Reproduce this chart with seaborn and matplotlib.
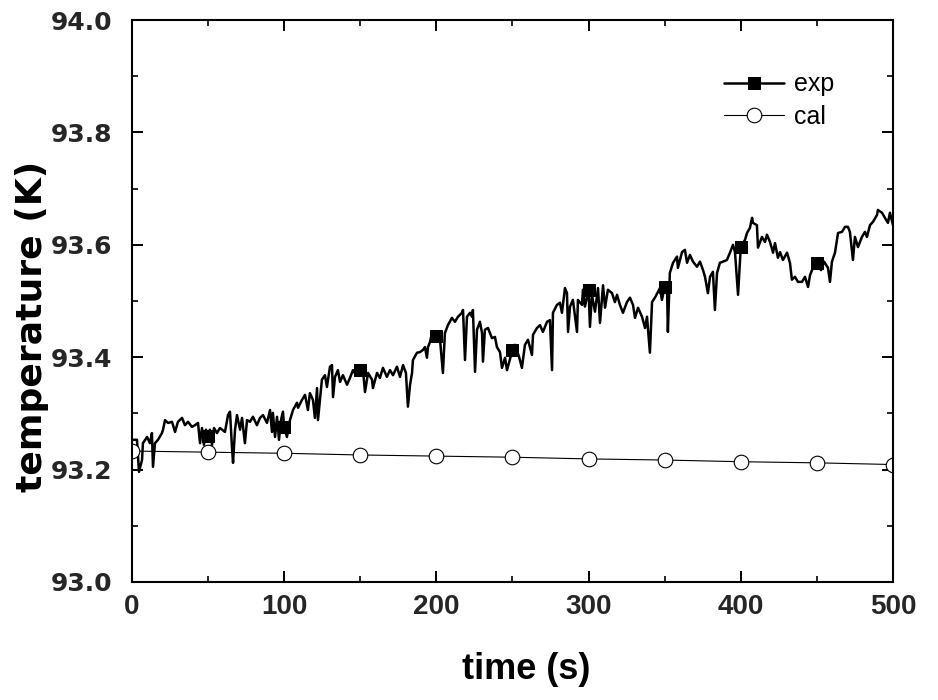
import numpy as np
import pandas as pd
import matplotlib
matplotlib.use("Agg")
import matplotlib.pyplot as plt
from matplotlib.ticker import MultipleLocator, FormatStrFormatter
import seaborn as sns

# ---------------- data ----------------
exp_time = [0.0, 3.3, 4.6, 6.6, 7.2, 9.9, 11.8, 13.1, 13.8, 15.1, 17.1, 19.7, 20.4, 21.7, 23.7,
            26.3, 28.3, 30.2, 32.9, 34.8, 36.8, 39.4, 41.4, 43.4, 44.7, 46.0, 47.3, 48.6, 50.0,
            51.2, 52.6, 53.9, 55.8, 57.8, 61.1, 63.1, 64.4, 65.7, 66.4, 67.7, 69.0, 71.0, 72.3,
            74.2, 75.6, 77.5, 79.5, 82.1, 84.1, 86.1, 88.7, 90.7, 92.0, 92.6, 94.0, 95.3, 96.6,
            97.9, 99.2, 100.0, 101.8, 103.8, 105.8, 108.4, 109.1, 111.7, 113.7, 115.6, 116.9,
            118.9, 120.2, 121.6, 122.2, 123.5, 124.8, 126.8, 128.1, 130.1, 131.4, 132.1, 133.4,
            135.3, 136.7, 138.6, 141.3, 143.2, 145.2, 147.2, 150.0, 151.8, 153.1, 155.1, 157.7,
            158.3, 161.0, 162.9, 164.9, 167.5, 169.5, 171.5, 174.1, 176.1, 178.1, 180.0, 181.3,
            182.7, 184.0, 184.6, 187.3, 189.2, 191.2, 192.5, 193.8, 194.5, 195.8, 197.1, 200.0,
            202.4, 204.3, 205.6, 207.6, 210.2, 212.2, 214.2, 216.8, 217.5, 218.8, 220.1, 222.1,
            223.4, 224.0, 225.4, 226.7, 228.6, 230.0, 230.6, 231.9, 233.9, 236.5, 238.5, 239.8,
            241.8, 243.1, 245.1, 246.4, 250.0, 251.6, 254.3, 256.2, 258.2, 260.2, 262.8, 263.5,
            266.1, 268.1, 270.0, 272.7, 274.6, 276.0, 276.6, 279.2, 281.2, 282.5, 284.5, 285.8,
            286.5, 287.8, 289.7, 292.4, 293.0, 295.7, 296.3, 297.6, 300.0, 300.9, 302.2, 304.2,
            306.2, 307.5, 309.5, 310.8, 312.7, 315.4, 317.3, 318.7, 320.6, 322.6, 325.2, 327.2,
            329.2, 330.5, 332.5, 335.1, 337.1, 338.4, 340.3, 341.7, 343.6, 346.9, 348.2, 350.0,
            351.5, 352.1, 353.4, 355.5, 358.1, 358.7, 361.4, 363.3, 364.7, 366.6, 368.6, 371.2,
            373.2, 375.2, 376.5, 378.4, 379.8, 381.7, 383.0, 384.4, 386.3, 388.3, 390.9, 392.9,
            394.9, 396.2, 398.2, 400.0, 402.8, 404.1, 406.0, 407.4, 408.0, 410.6, 411.3, 413.9,
            415.9, 417.2, 419.2, 421.2, 422.5, 424.4, 425.8, 427.7, 430.4, 432.3, 433.6, 435.6,
            437.6, 440.2, 442.2, 444.2, 445.5, 447.4, 450.0, 452.7, 454.7, 457.3, 458.6, 459.9,
            461.9, 463.9, 466.5, 468.5, 470.4, 471.7, 473.7, 475.0, 477.0, 479.6, 481.6, 482.9,
            484.9, 486.9, 489.5, 490.1, 492.8, 494.7, 496.7, 498.0, 500.0]
exp_temp = [93.253, 93.253, 93.196, 93.217, 93.247, 93.258, 93.247, 93.265, 93.205, 93.247, 93.253,
            93.265, 93.271, 93.288, 93.283, 93.285, 93.267, 93.285, 93.292, 93.279, 93.285, 93.276,
            93.279, 93.283, 93.247, 93.274, 93.244, 93.271, 93.260, 93.271, 93.244, 93.274, 93.265,
            93.274, 93.267, 93.297, 93.303, 93.240, 93.212, 93.271, 93.297, 93.271, 93.292, 93.247,
            93.288, 93.285, 93.294, 93.279, 93.292, 93.297, 93.283, 93.306, 93.267, 93.301, 93.258,
            93.294, 93.253, 93.288, 93.303, 93.275, 93.258, 93.288, 93.306, 93.319, 93.310, 93.324,
            93.333, 93.306, 93.336, 93.324, 93.292, 93.345, 93.288, 93.324, 93.360, 93.368, 93.347,
            93.383, 93.386, 93.329, 93.365, 93.377, 93.356, 93.368, 93.351, 93.363, 93.377, 93.368,
            93.377, 93.377, 93.338, 93.372, 93.360, 93.345, 93.372, 93.363, 93.381, 93.365, 93.377,
            93.368, 93.383, 93.365, 93.386, 93.372, 93.312, 93.351, 93.372, 93.395, 93.408, 93.409,
            93.413, 93.418, 93.399, 93.418, 93.427, 93.443, 93.438, 93.431, 93.372, 93.443, 93.457,
            93.470, 93.463, 93.472, 93.479, 93.484, 93.395, 93.472, 93.479, 93.472, 93.484, 93.374,
            93.449, 93.463, 93.443, 93.392, 93.449, 93.452, 93.434, 93.436, 93.418, 93.409, 93.381,
            93.399, 93.377, 93.413, 93.422, 93.401, 93.381, 93.422, 93.431, 93.404, 93.440, 93.452,
            93.457, 93.445, 93.463, 93.466, 93.377, 93.479, 93.493, 93.497, 93.479, 93.523, 93.514,
            93.445, 93.490, 93.502, 93.445, 93.502, 93.493, 93.520, 93.490, 93.520, 93.454, 93.511,
            93.481, 93.523, 93.461, 93.528, 93.488, 93.520, 93.514, 93.498, 93.511, 93.493, 93.479,
            93.498, 93.506, 93.493, 93.470, 93.488, 93.472, 93.452, 93.472, 93.408, 93.498, 93.506,
            93.523, 93.502, 93.525, 93.528, 93.445, 93.550, 93.568, 93.579, 93.559, 93.587, 93.591,
            93.568, 93.582, 93.570, 93.561, 93.570, 93.555, 93.543, 93.514, 93.543, 93.552, 93.484,
            93.550, 93.568, 93.570, 93.573, 93.586, 93.600, 93.587, 93.511, 93.596, 93.609, 93.621,
            93.630, 93.648, 93.639, 93.635, 93.595, 93.614, 93.605, 93.618, 93.605, 93.586, 93.603,
            93.577, 93.587, 93.573, 93.586, 93.568, 93.538, 93.543, 93.534, 93.534, 93.543, 93.525,
            93.546, 93.559, 93.568, 93.555, 93.570, 93.559, 93.534, 93.570, 93.586, 93.621, 93.623,
            93.632, 93.632, 93.623, 93.573, 93.614, 93.596, 93.614, 93.623, 93.614, 93.635, 93.641,
            93.653, 93.662, 93.657, 93.648, 93.639, 93.657, 93.635]
marker_times = [50.0, 100.0, 150.0, 200.0, 250.0, 300.0, 350.0, 400.0, 450.0]

cal_time = [0, 50, 100, 150, 200, 250, 300, 350, 400, 450, 500]
cal_temp = [93.233, 93.231, 93.229, 93.226, 93.224, 93.222, 93.219, 93.217, 93.214, 93.212, 93.209]

x_ticks = [0, 100, 200, 300, 400, 500]
y_ticks = [93.0, 93.2, 93.4, 93.6, 93.8, 94.0]

# ---------------- figure ----------------
sns.set_theme(style="ticks")
plt.rcParams["font.family"] = ["Liberation Sans", "DejaVu Sans"]

fig = plt.figure(figsize=(9.38, 7.0), dpi=100)
ax = fig.add_axes([0.1407, 0.1686, 0.8113, 0.8028])

exp_df = pd.DataFrame({"time": exp_time, "temperature": exp_temp})
cal_df = pd.DataFrame({"time": cal_time, "temperature": cal_temp})
marker_idx = [i for i, t in enumerate(exp_time) if t in marker_times]

sns.lineplot(data=exp_df, x="time", y="temperature", ax=ax, color="black",
             linewidth=1.8, marker="s", markersize=9, markevery=marker_idx,
             markerfacecolor="black", markeredgecolor="black",
             estimator=None, sort=False, label="exp")
sns.lineplot(data=cal_df, x="time", y="temperature", ax=ax, color="black",
             linewidth=0.8, marker="o", markersize=10.5, markerfacecolor="white",
             markeredgecolor="black", markeredgewidth=0.8,
             estimator=None, sort=False, label="cal")

ax.set_xlim(0, 500)
ax.set_ylim(93.0, 94.0)
ax.set_xticks(x_ticks)
ax.set_yticks(y_ticks)
ax.xaxis.set_minor_locator(MultipleLocator(50))
ax.yaxis.set_minor_locator(MultipleLocator(0.1))
ax.yaxis.set_major_formatter(FormatStrFormatter("%.1f"))

ax.tick_params(which="major", direction="in", length=8, width=1.4,
               top=True, right=True, color="black")
ax.tick_params(which="minor", direction="in", length=4, width=1.2,
               top=True, right=True, color="black")
ax.tick_params(axis="x", which="major", pad=9)
ax.tick_params(axis="y", which="major", pad=14)
for s in ax.spines.values():
    s.set_linewidth(1.5)
    s.set_color("black")

narrow = ["Liberation Sans Narrow", "Liberation Sans", "DejaVu Sans"]
for lab in ax.get_xticklabels():
    lab.set_fontfamily(narrow)
    lab.set_fontweight("bold")
    lab.set_fontsize(20)
for lab in ax.get_yticklabels():
    lab.set_fontfamily(["DejaVu Sans"])
    lab.set_fontweight("bold")
    lab.set_fontsize(18)

ax.set_xlabel("time (s)", fontfamily=narrow, fontweight="bold", fontsize=26,
              color="black")
ax.xaxis.set_label_coords(0.518, -0.125)
ax.set_ylabel("temperature (K)", fontfamily=["DejaVu Sans"], fontweight="bold",
              fontsize=26, color="black")
ax.yaxis.set_label_coords(-0.109, 0.455)

leg = ax.legend(loc="upper right", bbox_to_anchor=(0.952, 0.947), frameon=False,
                fontsize=18, handlelength=2.4, handletextpad=0.4, labelspacing=0.35)
for t in leg.get_texts():
    t.set_color("black")

fig.savefig("out.png", dpi=100)
